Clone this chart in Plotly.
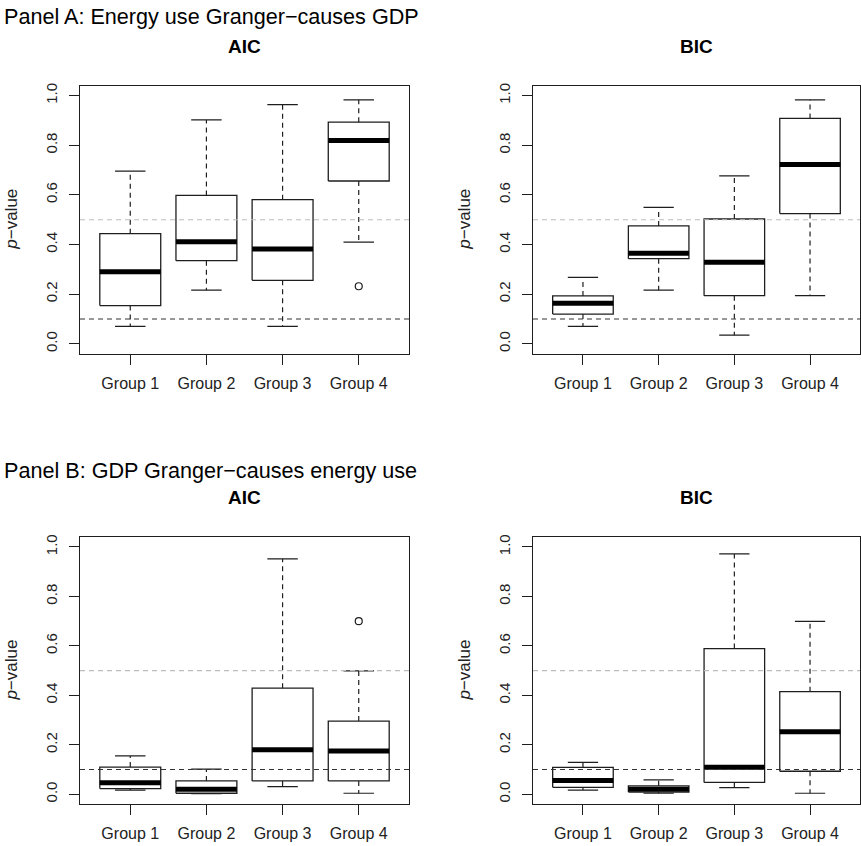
import plotly.graph_objects as go

# ---------------- data ----------------
GROUPS = ["Group 1", "Group 2", "Group 3", "Group 4"]
Y_TICKS = [0.0, 0.2, 0.4, 0.6, 0.8, 1.0]
Y_TICK_LABELS = ["0.0", "0.2", "0.4", "0.6", "0.8", "1.0"]
SIG_LEVEL = 0.1      # dark dashed reference line
HALF_LEVEL = 0.5     # light grey dashed reference line

# Panel A, AIC
A_AIC_LOWER = [0.070, 0.216, 0.070, 0.410]
A_AIC_Q1 = [0.154, 0.335, 0.256, 0.656]
A_AIC_MED = [0.290, 0.411, 0.382, 0.819]
A_AIC_Q3 = [0.444, 0.598, 0.581, 0.893]
A_AIC_UPPER = [0.696, 0.902, 0.964, 0.983]
A_AIC_OUT = [[], [], [], [0.232]]

# Panel A, BIC
A_BIC_LOWER = [0.070, 0.216, 0.035, 0.194]
A_BIC_Q1 = [0.120, 0.343, 0.194, 0.525]
A_BIC_MED = [0.163, 0.365, 0.329, 0.723]
A_BIC_Q3 = [0.193, 0.475, 0.503, 0.908]
A_BIC_UPPER = [0.268, 0.550, 0.677, 0.983]
A_BIC_OUT = [[], [], [], []]

# Panel B, AIC
B_AIC_LOWER = [0.017, 0.002, 0.031, 0.004]
B_AIC_Q1 = [0.023, 0.004, 0.054, 0.054]
B_AIC_MED = [0.047, 0.020, 0.180, 0.175]
B_AIC_Q3 = [0.110, 0.054, 0.429, 0.296]
B_AIC_UPPER = [0.155, 0.102, 0.952, 0.499]
B_AIC_OUT = [[], [], [], [0.700]]

# Panel B, BIC
B_BIC_LOWER = [0.017, 0.004, 0.027, 0.004]
B_BIC_Q1 = [0.028, 0.009, 0.048, 0.093]
B_BIC_MED = [0.056, 0.020, 0.109, 0.253]
B_BIC_Q3 = [0.109, 0.034, 0.589, 0.415]
B_BIC_UPPER = [0.129, 0.058, 0.972, 0.699]
B_BIC_OUT = [[], [], [], []]

# ---------------- layout constants ----------------
W, H = 861, 846
FONT = "Liberation Sans, Arial, sans-serif"
INK = "#1e1e1e"
BOX_HALF = 0.4      # boxwex 0.8
CAP_HALF = 0.2      # staplewex 0.5
DASH = "5px,4px"

# pixel boxes of each plotting region: (x0, x1, y0_top, y1_bottom)
REGIONS = {
    1: (80, 409, 83, 352),
    2: (533, 860, 83, 352),
    3: (80, 409, 536, 804),
    4: (533, 860, 536, 804),
}

PANELS = [
    (1, A_AIC_LOWER, A_AIC_Q1, A_AIC_MED, A_AIC_Q3, A_AIC_UPPER, A_AIC_OUT),
    (2, A_BIC_LOWER, A_BIC_Q1, A_BIC_MED, A_BIC_Q3, A_BIC_UPPER, A_BIC_OUT),
    (3, B_AIC_LOWER, B_AIC_Q1, B_AIC_MED, B_AIC_Q3, B_AIC_UPPER, B_AIC_OUT),
    (4, B_BIC_LOWER, B_BIC_Q1, B_BIC_MED, B_BIC_Q3, B_BIC_UPPER, B_BIC_OUT),
]

fig = go.Figure()


def axis_names(n):
    return ("x" if n == 1 else f"x{n}", "y" if n == 1 else f"y{n}")


for n, lo, q1, md, q3, hi, outs in PANELS:
    xa, ya = axis_names(n)
    pos = list(range(1, len(GROUPS) + 1))

    bx, by = [], []
    mx, my = [], []
    wx, wy = [], []
    cx, cy = [], []
    ox, oy = [], []
    for i, p in enumerate(pos):
        bx += [p - BOX_HALF, p + BOX_HALF, p + BOX_HALF, p - BOX_HALF, p - BOX_HALF, None]
        by += [q1[i], q1[i], q3[i], q3[i], q1[i], None]
        mx += [p - BOX_HALF, p + BOX_HALF, None]
        my += [md[i], md[i], None]
        wx += [p, p, None, p, p, None]
        wy += [q3[i], hi[i], None, q1[i], lo[i], None]
        cx += [p - CAP_HALF, p + CAP_HALF, None, p - CAP_HALF, p + CAP_HALF, None]
        cy += [hi[i], hi[i], None, lo[i], lo[i], None]
        for v in outs[i]:
            ox.append(p)
            oy.append(v)

    fig.add_trace(go.Scatter(x=wx, y=wy, mode="lines", xaxis=xa, yaxis=ya,
                             line=dict(color=INK, width=1.2, dash=DASH),
                             hoverinfo="skip"))
    fig.add_trace(go.Scatter(x=cx, y=cy, mode="lines", xaxis=xa, yaxis=ya,
                             line=dict(color=INK, width=1.2), hoverinfo="skip"))
    fig.add_trace(go.Scatter(x=bx, y=by, mode="lines", xaxis=xa, yaxis=ya,
                             line=dict(color=INK, width=1.3), hoverinfo="skip"))
    fig.add_trace(go.Scatter(x=mx, y=my, mode="lines", xaxis=xa, yaxis=ya,
                             line=dict(color="black", width=5), hoverinfo="skip"))
    if ox:
        fig.add_trace(go.Scatter(x=ox, y=oy, mode="markers", xaxis=xa, yaxis=ya,
                                 marker=dict(symbol="circle-open", size=7,
                                             color=INK, line=dict(width=1.2)),
                                 hoverinfo="skip"))

    # reference lines (drawn on top, as abline in R)
    for lvl, col in ((SIG_LEVEL, "#333333"), (HALF_LEVEL, "#bdbdbd")):
        fig.add_shape(type="line", xref=f"{xa} domain", yref=ya,
                      x0=0, x1=1, y0=lvl, y1=lvl, layer="above",
                      line=dict(color=col, width=1.1, dash=DASH))

    x0, x1, yt, yb = REGIONS[n]
    xdom = [x0 / W, x1 / W]
    ydom = [1 - yb / H, 1 - yt / H]
    suffix = "" if n == 1 else str(n)
    fig.update_layout(**{
        f"xaxis{suffix}": dict(
            domain=xdom, anchor=ya, range=[0.34, 4.66],
            tickmode="array", tickvals=pos, ticktext=GROUPS,
            ticks="outside", ticklen=10, tickwidth=1, tickcolor=INK,
            showline=True, linecolor=INK, linewidth=1, mirror=True,
            showgrid=False, zeroline=False, fixedrange=True,
            tickfont=dict(family=FONT, size=16, color="#222222"),
            ticklabelstandoff=5,
        ),
        f"yaxis{suffix}": dict(
            domain=ydom, anchor=xa, range=[-0.04, 1.04],
            tickmode="array", tickvals=Y_TICKS, ticktext=Y_TICK_LABELS,
            tickangle=-90,
            ticks="outside", ticklen=10, tickwidth=1, tickcolor=INK,
            showline=True, linecolor=INK, linewidth=1, mirror=True,
            showgrid=False, zeroline=False, fixedrange=True,
            tickfont=dict(family=FONT, size=15, color="#222222"),
            ticklabelstandoff=6,
        ),
    })

    # y-axis title
    fig.add_annotation(x=(x0 - 68) / W, y=1 - ((yt + yb) / 2) / H,
                       xref="paper", yref="paper", showarrow=False,
                       text="<i>p</i>−value", textangle=-90,
                       xanchor="center", yanchor="middle",
                       font=dict(family=FONT, size=17, color="#222222"))

# subplot titles
SUB_TITLES = [(1, "AIC", 43.7), (2, "BIC", 43.7), (3, "AIC", 496.3), (4, "BIC", 496.3)]
for n, txt, ycen in SUB_TITLES:
    x0, x1, _, _ = REGIONS[n]
    fig.add_annotation(x=((x0 + x1) / 2) / W, y=1 - ycen / H,
                       xref="paper", yref="paper", showarrow=False,
                       text=f"<b>{txt}</b>", xanchor="center", yanchor="middle",
                       font=dict(family=FONT, size=19, color="black"))

# panel titles
PANEL_TITLES = [("Panel A: Energy use Granger−causes GDP", 13.7),
                ("Panel B: GDP Granger−causes energy use", 468.8)]
for txt, ycen in PANEL_TITLES:
    fig.add_annotation(x=2 / W, y=1 - ycen / H, xref="paper", yref="paper",
                       showarrow=False, text=txt, xanchor="left", yanchor="middle",
                       font=dict(family=FONT, size=21.6, color="black"))

fig.update_layout(
    width=W, height=H,
    margin=dict(l=0, r=0, t=0, b=0),
    paper_bgcolor="white", plot_bgcolor="white",
    showlegend=False,
)

fig.write_html("out.html")
